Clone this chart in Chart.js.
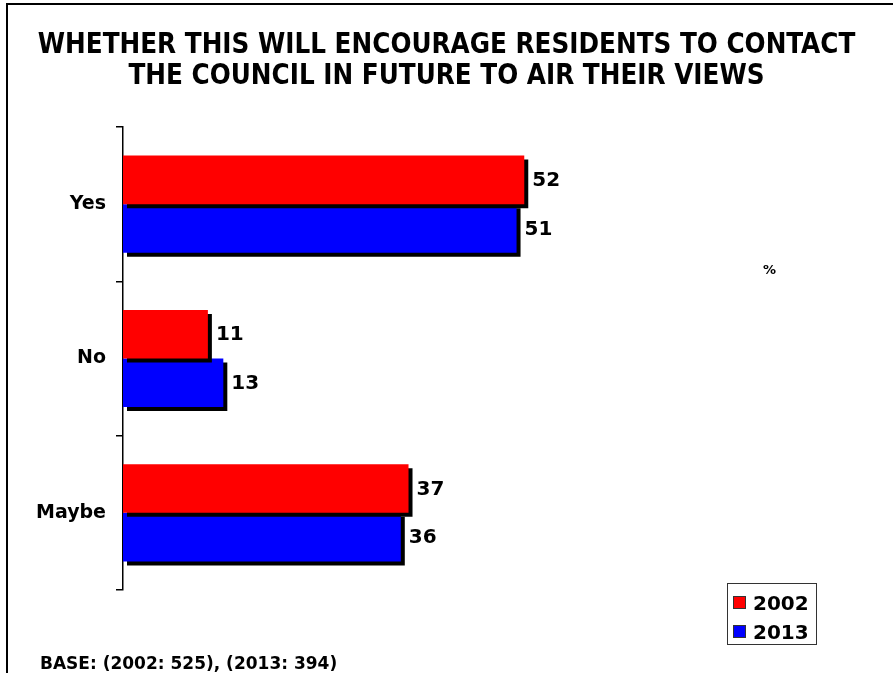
<!DOCTYPE html>
<html>
<head>
<meta charset="utf-8">
<script src="https://cdn.jsdelivr.net/npm/chart.js@4"></script>
<style>
  body { margin: 0; background: #fff; }
  #wrap { position: relative; width: 893px; height: 673px; overflow: hidden; font-family: 'DejaVu Sans', Verdana, sans-serif; font-weight: bold; }
  #frame { position: absolute; left: 6px; top: 3px; width: 900px; height: 700px; border-left: 2px solid #000; border-top: 2px solid #000; }
  #title { position: absolute; left: 0; top: 28px; width: 893px; text-align: center; font-family: 'DejaVu Sans Condensed', 'DejaVu Sans', sans-serif; font-stretch: condensed; font-size: 27.5px; line-height: 31px; }
  #pct { position: absolute; left: 763px; top: 262px; font-size: 13px; }
  #base { position: absolute; left: 40px; top: 653px; font-size: 17px; }
  #legend { position: absolute; left: 727px; top: 583px; width: 88px; height: 60px; border: 1px solid #333; }
  .item { position: absolute; left: 5px; font-size: 20px; line-height: 20px; }
  .item span { display: inline-block; width: 11px; height: 11px; border: 1px solid #333; margin-right: 7px; vertical-align: 1px; }
  canvas { position: absolute; left: 0; top: 0; }
</style>
</head>
<body>
<div id="wrap">
  <canvas id="chart" width="893" height="673"></canvas>
  <div id="frame"></div>
  <div id="title">WHETHER THIS WILL ENCOURAGE RESIDENTS TO CONTACT<br>THE COUNCIL IN FUTURE TO AIR THEIR VIEWS</div>
  <div id="pct">%</div>
  <div id="base">BASE: (2002: 525), (2013: 394)</div>
  <div id="legend"></div>
</div>
<script>
const categories = ['Yes', 'No', 'Maybe'];
const years = ['2002', '2013'];
const values2002 = [52, 11, 37];
const values2013 = [51, 13, 36];
const colors = ['#ff0000', '#0000ff'];

// black drop shadow under the bars, then the value labels
const shadowPlugin = {
    id: 'shadow',
    beforeDatasetsDraw(chart) {
        const ctx = chart.ctx;
        ctx.save();
        ctx.shadowColor = '#000';
        ctx.shadowBlur = 0;
        ctx.shadowOffsetX = 4;
        ctx.shadowOffsetY = 4;
    },
    afterDatasetsDraw(chart) {
        const ctx = chart.ctx;
        ctx.restore();
        ctx.save();
        ctx.font = 'bold 20px "DejaVu Sans", Verdana, sans-serif';
        ctx.fillStyle = '#000';
        ctx.textBaseline = 'middle';
        chart.data.datasets.forEach((ds, i) => {
            chart.getDatasetMeta(i).data.forEach((bar, j) => {
                ctx.fillText(ds.data[j], bar.x + 8, bar.y + 1);
            });
        });
        ctx.restore();
    }
};

const chart = new Chart(document.getElementById('chart'), {
    type: 'bar',
    data: {
        labels: categories,
        datasets: [
            { label: years[0], data: values2002, backgroundColor: colors[0] },
            { label: years[1], data: values2013, backgroundColor: colors[1] }
        ]
    },
    options: {
        indexAxis: 'y',
        responsive: false,
        animation: false,
        layout: { padding: { left: 0, right: 307, top: 127, bottom: 83 } },
        datasets: {
            bar: { categoryPercentage: 0.63, barPercentage: 1, borderWidth: 0 }
        },
        scales: {
            x: { display: false, min: 0, max: 60 },
            y: {
                afterFit: s => { s.width = 123; },
                border: { display: true, color: '#000', width: 1.5 },
                grid: { offset: true, drawOnChartArea: false, tickLength: 7, color: '#000', lineWidth: 1.5 },
                ticks: { padding: 10, color: '#000', font: { family: '"DejaVu Sans", Verdana, sans-serif', size: 19, weight: 'bold' } }
            }
        },
        plugins: { legend: { display: false }, tooltip: { enabled: false } }
    },
    plugins: [shadowPlugin]
});

const legend = document.getElementById('legend');
chart.data.datasets.forEach((ds, i) => {
    const item = document.createElement('div');
    item.className = 'item';
    item.style.top = (9 + i * 29) + 'px';
    item.innerHTML = `<span style="background:${ds.backgroundColor}"></span>${ds.label}`;
    legend.appendChild(item);
});
</script>
</body>
</html>
